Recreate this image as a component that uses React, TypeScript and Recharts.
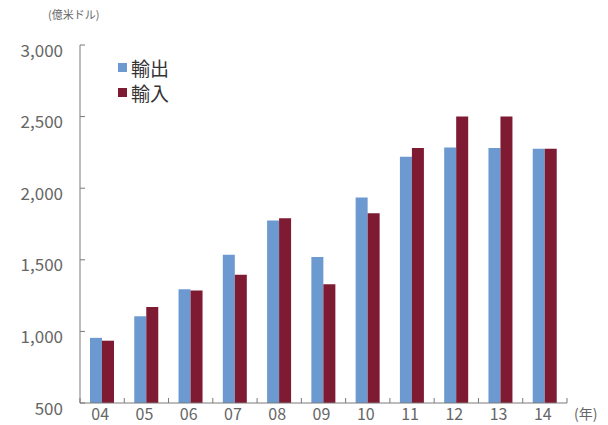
import { BarChart, Bar, XAxis, YAxis, Legend } from 'recharts';

const years = ['04', '05', '06', '07', '08', '09', '10', '11', '12', '13', '14'];
const exportValues = [955, 1105, 1295, 1535, 1775, 1520, 1935, 2220, 2285, 2280, 2275];
const importValues = [935, 1170, 1285, 1395, 1790, 1330, 1825, 2280, 2500, 2500, 2275];
const yTicks = [500, 1000, 1500, 2000, 2500, 3000];
const seriesNames = ['輸出', '輸入'];

const data = years.map((year, i) => ({ year, 輸出: exportValues[i], 輸入: importValues[i] }));

const FONT = '"Noto Sans CJK JP", "Noto Sans", sans-serif';
const AXIS = '#7a7a7a';
const TEXT = '#666';

const YTick = (props: any) => {
  const { x, y, payload } = props;
  return (
    <g>
      <line x1={x} x2={x + 5} y1={y} y2={y} stroke={AXIS} />
      <text x={x - 17} y={y + 4} textAnchor="end" dominantBaseline="central" fontSize={17} fill={TEXT} fontFamily={FONT}>
        {payload.value.toLocaleString('en-US')}
      </text>
    </g>
  );
};

const XTick = (props: any) => {
  const { x, y, payload, index, visibleTicksCount } = props;
  const half = payload.offset || 0;
  return (
    <g>
      <line x1={x - half} x2={x - half} y1={y} y2={y - 5} stroke={AXIS} />
      {index === visibleTicksCount - 1 && (
        <line x1={x + half} x2={x + half} y1={y} y2={y - 5} stroke={AXIS} />
      )}
      <text x={x - 2} y={y + 17} textAnchor="middle" fontSize={16} fill={TEXT} fontFamily={FONT}>
        {payload.value}
      </text>
    </g>
  );
};

const LegendBox = (props: any) => {
  const items = [...(props.payload || [])].sort(
    (a: any, b: any) => seriesNames.indexOf(a.value) - seriesNames.indexOf(b.value)
  );
  return (
    <div style={{ fontFamily: FONT }}>
      {items.map((item: any) => (
        <div key={item.value} style={{ display: 'flex', alignItems: 'center', height: 25 }}>
          <span style={{ width: 9, height: 9, background: item.color, marginRight: 4 }} />
          <span style={{ fontSize: 19, color: '#333', lineHeight: '25px' }}>{item.value}</span>
        </div>
      ))}
    </div>
  );
};

export default function App() {
  return (
    <div style={{ position: 'absolute', left: 0, top: 0, width: 608, height: 425, background: '#fff', fontFamily: FONT }}>
      <div style={{ position: 'absolute', left: 48, top: 6, fontSize: 11, color: TEXT }}>(億米ドル)</div>
      <div style={{ position: 'absolute', left: 574, top: 403, fontSize: 14, color: TEXT }}>(年)</div>
      <BarChart
        width={608}
        height={425}
        data={data}
        margin={{ top: 45, right: 41, bottom: 0, left: 0 }}
        barGap={0}
        barSize={12}
      >
        <YAxis
          width={80}
          domain={[500, 3000]}
          ticks={yTicks}
          allowDataOverflow
          axisLine={{ stroke: AXIS }}
          tickLine={false}
          tickSize={0}
          tickMargin={0}
          tick={YTick}
        />
        <XAxis
          dataKey="year"
          height={22}
          axisLine={{ stroke: AXIS }}
          tickLine={false}
          tickSize={0}
          tickMargin={0}
          interval={0}
          tick={XTick}
        />
        <Legend
          layout="vertical"
          align="center"
          verticalAlign="middle"
          content={LegendBox}
          wrapperStyle={{ left: 118, top: 55, width: 80 }}
        />
        <Bar dataKey="輸出" fill="#6c9ad0" isAnimationActive={false} />
        <Bar dataKey="輸入" fill="#7e1b32" isAnimationActive={false} />
      </BarChart>
    </div>
  );
}
